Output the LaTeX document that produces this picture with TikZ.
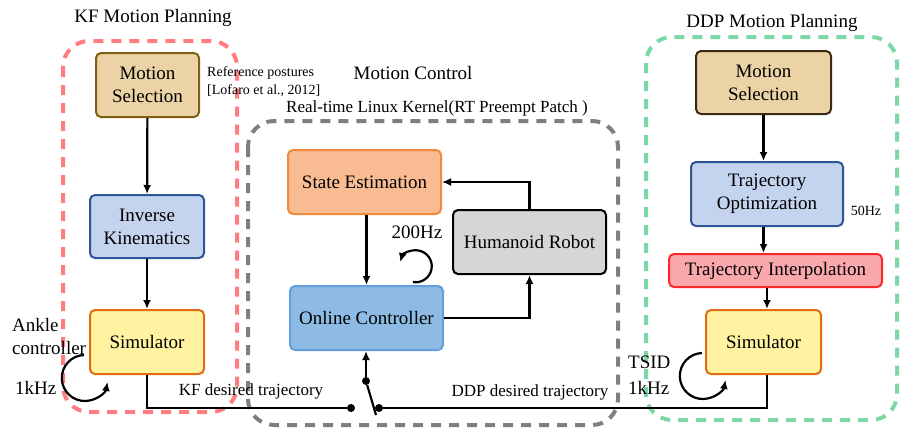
\documentclass[tikz,border=0pt]{standalone}
\usepackage{fontspec}
\setmainfont{Liberation Serif}
\usetikzlibrary{arrows.meta,positioning}
\definecolor{selfill}{RGB}{235,211,166}
\definecolor{seldraw}{RGB}{127,96,16}
\definecolor{seldark}{RGB}{58,42,20}
\definecolor{bluefill}{RGB}{196,211,238}
\definecolor{bluedraw}{RGB}{47,85,151}
\definecolor{simfill}{RGB}{255,242,160}
\definecolor{simdraw}{RGB}{226,108,20}
\definecolor{estfill}{RGB}{248,187,146}
\definecolor{estdraw}{RGB}{240,138,60}
\definecolor{ctrlfill}{RGB}{141,187,227}
\definecolor{ctrldraw}{RGB}{100,160,220}
\definecolor{robfill}{RGB}{214,214,214}
\definecolor{itpfill}{RGB}{249,168,172}
\definecolor{itpdraw}{RGB}{255,40,40}
\definecolor{kfgrp}{RGB}{255,124,128}
\definecolor{mcgrp}{RGB}{127,127,127}
\definecolor{ddpgrp}{RGB}{125,216,168}

\begin{document}
\begin{tikzpicture}[x=1pt, y=-1pt,
  blk/.style={draw, rounded corners=5pt, line width=2pt, align=center, inner sep=2pt, font=\rmfamily\fontsize{19}{23}\selectfont},
  grp/.style={rounded corners=26pt, line width=4pt, dash pattern=on 10pt off 8pt},
  ttl/.style={inner sep=0pt, font=\rmfamily\fontsize{19}{23}\selectfont},
  lbl/.style={inner sep=0pt, font=\rmfamily\fontsize{17}{20}\selectfont},
  note/.style={inner sep=0pt, align=left, font=\rmfamily\fontsize{14}{18}\selectfont},
  wire/.style={line width=2.2pt},
  dot/.style={circle, fill, inner sep=0pt, minimum size=8pt},
  >={Latex[length=9pt, width=8pt]}]
  \useasboundingbox (0,0) rectangle (900,429);
  \draw[grp, kfgrp] (63,41) rectangle (237,412);
  \draw[grp, mcgrp] (248,121) rectangle (618,425);
  \draw[grp, ddpgrp] (646,37) rectangle (897,420);
  \node[ttl] (kft) at (153,18) {KF Motion Planning};
  \node[ttl] (mct) at (413,73) {Motion Control};
  \node[lbl] (rtk) at (437,108) {Real-time Linux Kernel(RT Preempt Patch )};
  \node[ttl] (ddpt) at (772,23) {DDP Motion Planning};
  \node[note, anchor=west] (ref) at (207,82) {Reference postures\\{}[Lofaro et al., 2012]};

  \node[blk, fill=selfill, draw=seldraw, minimum width=103pt, minimum height=64pt] (kfms) at (147.5,85) {Motion\\Selection};
  \node[blk, fill=bluefill, draw=bluedraw, minimum width=114pt, minimum height=63pt] (ik) at (147,226.5) {Inverse\\Kinematics};
  \node[blk, fill=simfill, draw=simdraw, minimum width=114pt, minimum height=64pt] (kfsim) at (147,342) {Simulator};
  \node[blk, fill=estfill, draw=estdraw, minimum width=153pt, minimum height=64pt] (est) at (364.5,182) {State Estimation};
  \node[blk, fill=robfill, draw=black, minimum width=153pt, minimum height=64pt] (rob) at (529.5,242) {Humanoid Robot};
  \node[blk, fill=ctrlfill, draw=ctrldraw, minimum width=153pt, minimum height=64pt] (ctrl) at (366.5,318) {Online Controller};
  \node[blk, fill=selfill, draw=seldark, minimum width=135pt, minimum height=63pt] (ddpms) at (763.5,82.5) {Motion\\Selection};
  \node[blk, fill=bluefill, draw=bluedraw, minimum width=152pt, minimum height=64pt] (opt) at (767,194) {Trajectory\\Optimization};
  \node[blk, fill=itpfill, draw=itpdraw, minimum width=213pt, minimum height=33pt] (itp) at (775.5,270.5) {Trajectory Interpolation};
  \node[blk, fill=simfill, draw=simdraw, minimum width=115pt, minimum height=64pt] (ddpsim) at (763.5,342) {Simulator};

  \node[ttl, anchor=west, align=left] (ank) at (12,336) {Ankle\\controller};
  \node[ttl, anchor=west] (kfhz) at (15,388) {1kHz};
  \node[ttl] (hz200) at (417,232) {200Hz};
  \node[ttl, anchor=west] (tsid) at (628,362) {TSID};
  \node[ttl, anchor=west] (ddphz) at (628,388) {1kHz};
  \node[note] (hz50) at (866,211) {50Hz};
  \node[lbl] (kftraj) at (251,391) {KF desired trajectory};
  \node[lbl] (ddptraj) at (530,392) {DDP desired trajectory};

  \draw[->, wire] (kfms) -- (ik);
  \draw[->, wire] (ik) -- (kfsim);
  \draw[->, wire] (est.south -| ctrl.north) -- (ctrl.north);
  \draw[->, wire] (ctrl.east) -| (rob.south);
  \draw[->, wire] (rob.north) |- (est.east);
  \draw[->, wire] (ddpms.south) -- (ddpms.south |- opt.north);
  \draw[->, wire] (ddpms.south |- opt.south) -- (ddpms.south |- itp.north);
  \draw[->, wire] (itp.south -| 767,0) -- (ddpsim.north -| 767,0);

  \node[dot] (swtop) at (366,381) {};
  \node[dot] (swl) at (351,408) {};
  \node[dot] (swr) at (379,408) {};
  \coordinate (swend) at (376,415);
  \draw[->, wire] (swtop) -- (ctrl.south -| swtop);
  \draw[wire] (swtop) -- (swend);
  \draw[wire] (kfsim.south) |- (swl);
  \draw[wire] (swr) -| (ddpsim.south -| 767,0);

  \coordinate (kfloop) at (84,355);
  \coordinate (ctrlloop) at (413,282);
  \coordinate (ddploop) at (702,353);
  \draw[->, wire] (kfloop) arc[start angle=92, end angle=350, radius=23pt];
  \draw[->, wire] (ctrlloop) arc[start angle=260, end angle=525, radius=16pt];
  \draw[->, wire] (ddploop) arc[start angle=92, end angle=350, radius=23pt];
\end{tikzpicture}
\end{document}
